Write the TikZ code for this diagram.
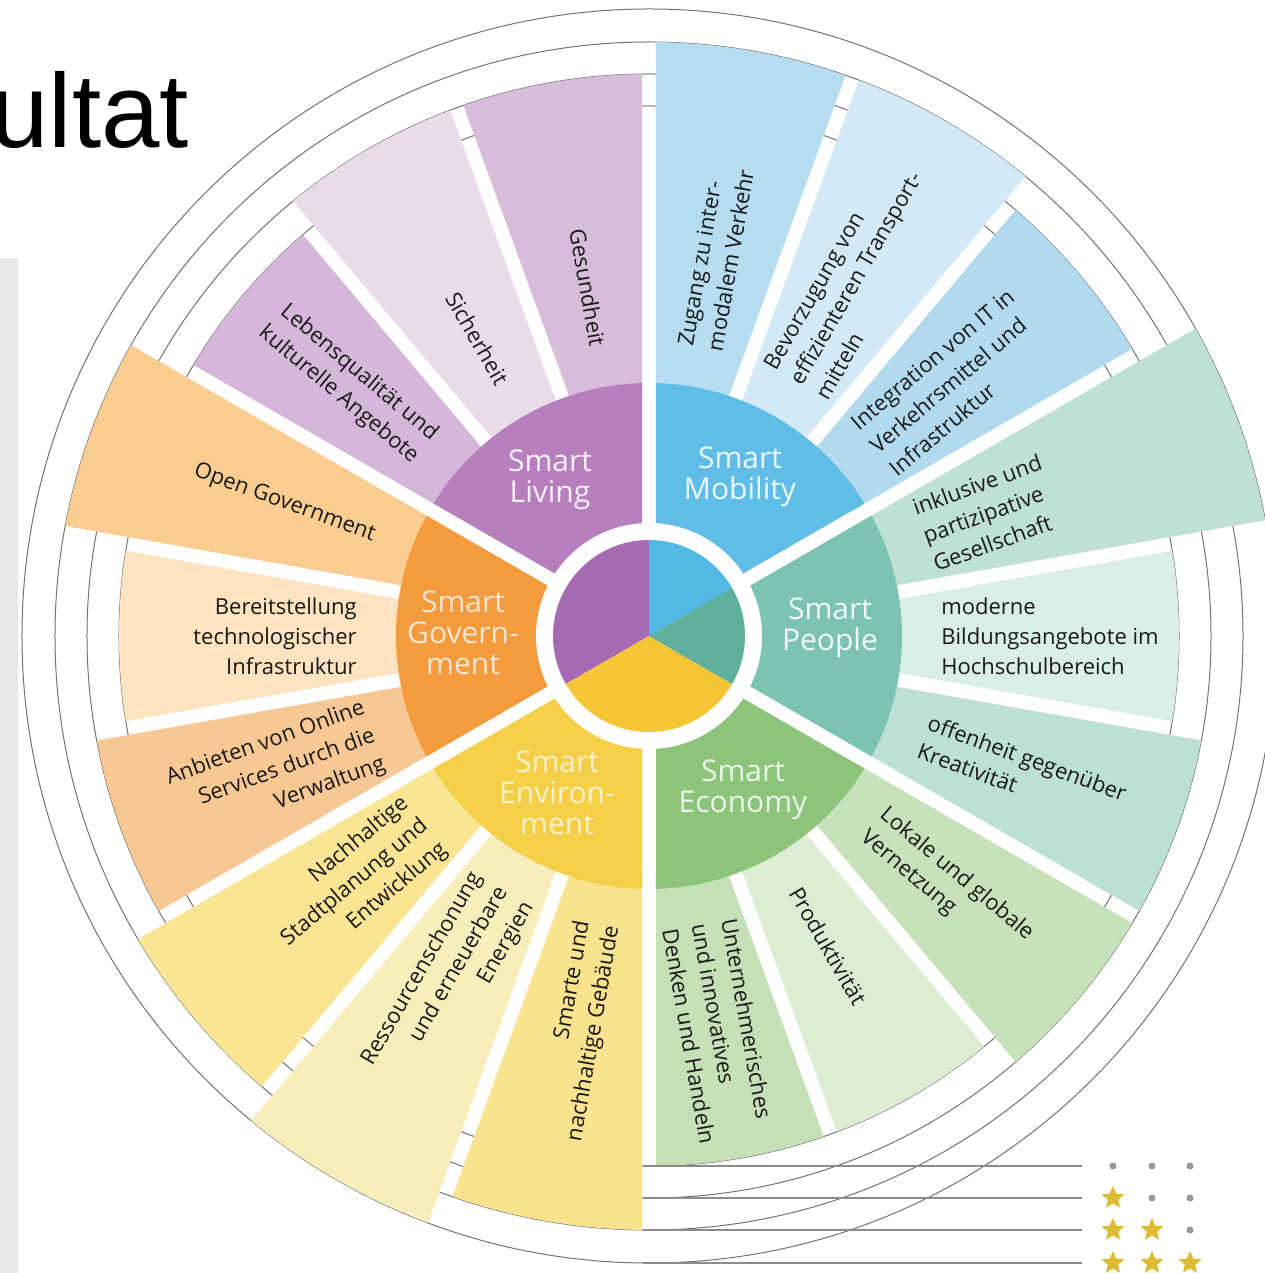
\documentclass[tikz,border=0pt]{standalone}
\usepackage{fontspec}
\setmainfont{Open Sans}
\newfontfamily\slidefont{Liberation Sans}
\usetikzlibrary{shapes.geometric}

% wheel colours
\definecolor{livingA}{HTML}{B77FBE}
\definecolor{mobilA}{HTML}{60BDE8}
\definecolor{peopleA}{HTML}{7CC3B3}
\definecolor{econA}{HTML}{8DC47C}
\definecolor{envA}{HTML}{F6CF48}
\definecolor{govA}{HTML}{F39B3D}
\definecolor{pieLiving}{HTML}{A66BB2}
\definecolor{pieMobil}{HTML}{52B9E5}
\definecolor{piePeople}{HTML}{5FB09C}
\definecolor{pieEnv}{HTML}{F5C535}
% outer fields
\definecolor{cGesund}{HTML}{D8BDDB}
\definecolor{cSicher}{HTML}{EADBEA}
\definecolor{cLeben}{HTML}{D5B7D9}
\definecolor{cOpen}{HTML}{F9CD90}
\definecolor{cBereit}{HTML}{FDE3BF}
\definecolor{cAnbiet}{HTML}{F7C894}
\definecolor{cNachh}{HTML}{F9E594}
\definecolor{cRess}{HTML}{F8EEBB}
\definecolor{cSmarte}{HTML}{FAE38F}
\definecolor{cUntern}{HTML}{C5E0B6}
\definecolor{cProd}{HTML}{DDEDD3}
\definecolor{cLokal}{HTML}{C7E1BA}
\definecolor{cOffen}{HTML}{BCDFD6}
\definecolor{cModern}{HTML}{DAEEE8}
\definecolor{cInkl}{HTML}{BFE0D5}
\definecolor{cInteg}{HTML}{B2DAEF}
\definecolor{cBevor}{HTML}{D3E9F5}
\definecolor{cZugang}{HTML}{B5DCEF}
\definecolor{starC}{HTML}{DDBB33}

\begin{document}
\begin{tikzpicture}[x=0.5pt,y=0.5pt,
  ring/.style={draw=black!55, line width=0.5pt},
  field/.style={font=\fontsize{11}{15}\selectfont, text=black!90, inner sep=0pt},
  fieldL/.style={field, anchor=east, align=right},
  fieldR/.style={field, anchor=west, align=left},
  smart/.style={font=\fontsize{15}{15.5}\selectfont, align=center, inner sep=0pt},
  legline/.style={draw=black!45, line width=0.75pt},
  fullstar/.style={star, star points=5, star point ratio=2.2, fill=starC, inner sep=0pt, minimum size=12pt},
  nostar/.style={circle, fill=black!40, inner sep=0pt, minimum size=3.5pt}]
\useasboundingbox (-649,-637) rectangle (615,636);

% slide background
\fill[black!9] (-649,-637) rectangle (-631,378);
\node[font=\slidefont\fontsize{52.5}{52.5}\selectfont, anchor=base west, inner sep=0pt] (titel) at (-659,488) {ultat};

% rating circles
\foreach \r in {530,562,594,627}
  \draw[ring] (0,0) circle[radius=\r];

% outer fields, cut by the white spokes
\begin{scope}[even odd rule]
\clip (-700,-700) rectangle (700,700)
  foreach \g in {10,30,...,170} {({\g-0.573}:700) -- ({\g+0.573}:700) -- ({\g+179.427}:700) -- ({\g+180.573}:700) -- cycle};
\foreach \a/\r/\c in {30/562/cInteg, 50/594/cBevor, 70/594/cZugang,
                      90/562/cGesund, 110/562/cSicher, 130/530/cLeben,
                      150/594/cOpen, 170/530/cBereit, 190/562/cAnbiet,
                      210/594/cNachh, 230/627/cRess, 250/594/cSmarte,
                      270/530/cUntern, 290/530/cProd, 310/562/cLokal,
                      330/562/cOffen, 350/530/cModern, 370/627/cInkl}
  \fill[\c] (\a:240) -- (\a:\r) arc[start angle=\a, end angle=\a+20, radius=\r] -- ({\a+20}:240) -- cycle;
\end{scope}

% the six fields
\begin{scope}[even odd rule]
\clip (-700,-700) rectangle (700,700)
  foreach \g in {30,90,150} {({\g-0.573}:700) -- ({\g+0.573}:700) -- ({\g+179.427}:700) -- ({\g+180.573}:700) -- cycle};
\foreach \a/\c in {30/mobilA, 90/livingA, 150/govA, 210/envA, 270/econA, 330/peopleA}
  \fill[\c] (0,0) -- (\a:253) arc[start angle=\a, end angle=\a+60, radius=253] -- cycle;
\end{scope}

% centre
\fill[white] (0,0) circle[radius=113];
\fill[pieMobil] (0,0) -- (30:96) arc[start angle=30, end angle=90, radius=96] -- cycle;
\fill[pieLiving] (0,0) -- (90:96) arc[start angle=90, end angle=210, radius=96] -- cycle;
\fill[pieEnv] (0,0) -- (210:96) arc[start angle=210, end angle=330, radius=96] -- cycle;
\fill[piePeople] (0,0) -- (-30:96) arc[start angle=-30, end angle=30, radius=96] -- cycle;

\node[smart, text=livingA!12!white] (living) at (-99,156) {Smart\\Living};
\node[smart, text=mobilA!12!white] (mobility) at (91,159) {Smart\\Mobility};
\node[smart, text=peopleA!10!white] (people) at (181,8) {Smart\\People};
\node[smart, text=econA!18!white] (economy) at (94,-154) {Smart\\Economy};
\node[smart, text=envA!30!white] (environment) at (-92,-157) {Smart\\Environ-\\ment};
\node[smart, text=govA!25!white] (government) at (-186,3) {Smart\\Govern-\\ment};

% field texts
\node[fieldL, rotate=-80] (gesund) at (100:294) {Gesundheit};
\node[fieldL, rotate=-60] (sicher) at (120:292) {Sicherheit};
\node[fieldL, rotate=-40] (leben) at (140:292) {Lebensqualität und\\kulturelle Angebote};
\node[fieldL, rotate=-20] (open) at (160:292) {Open Government};
\node[fieldL] (bereit) at (180:292) {Bereitstellung\\technologischer\\Infrastruktur};
\node[fieldL, rotate=20] (anbiet) at (200:292) {Anbieten von Online\\Services durch die\\Verwaltung};
\node[fieldL, rotate=40] (nachh) at (220:292) {Nachhaltige\\Stadtplanung und\\Entwicklung};
\node[fieldL, rotate=60] (ress) at (240:292) {Ressourcenschonung\\und erneuerbare\\Energien};
\node[fieldL, rotate=80] (smarte) at (260:292) {Smarte und\\nachhaltige Gebäude};
\node[fieldR, rotate=-80] (untern) at (280:292) {Unternehmerisches\\und innovatives\\Denken und Handeln};
\node[fieldR, rotate=-60] (prod) at (300:292) {Produktivität};
\node[fieldR, rotate=-40] (lokal) at (320:292) {Lokale und globale\\Vernetzung};
\node[fieldR, rotate=-20] (offen) at (340:292) {offenheit gegenüber\\Kreativität};
\node[fieldR] (modern) at (0:292) {moderne\\Bildungsangebote im\\Hochschulbereich};
\node[fieldR, rotate=20] (inkl) at (20:292) {inklusive und\\partizipative\\Gesellschaft};
\node[fieldR, rotate=40] (integ) at (40:292) {Integration von IT in\\Verkehrsmittel und\\Infrastruktur};
\node[fieldR, rotate=60] (bevor) at (60:292) {Bevorzugung von\\effizienteren Transport-\\mitteln};
\node[fieldR, rotate=80] (zugang) at (80:292) {Zugang zu inter-\\modalem Verkehr};

% legend
\foreach \r in {530,562,594,627}
  \draw[legline] (-6,-\r) -- (433,-\r);
\foreach \y [count=\i from 0] in {530,562,594,627}
  \foreach \x [count=\j] in {464,503,541} {
    \ifnum\j>\i \node[nostar] (m\i\j) at (\x,-\y) {};
    \else \node[fullstar] (m\i\j) at (\x,-\y) {}; \fi
  }
\end{tikzpicture}
\end{document}
